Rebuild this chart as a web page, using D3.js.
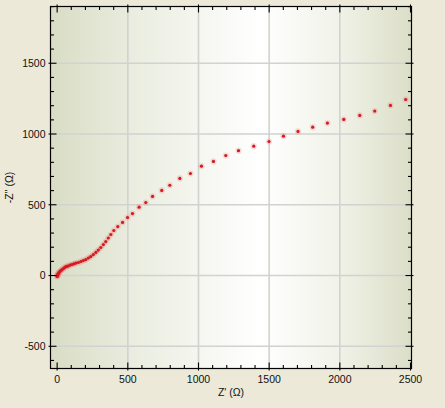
<!DOCTYPE html>
<html><head><meta charset="utf-8">
<script src="https://cdn.jsdelivr.net/npm/d3@7"></script>
<style>
html,body{margin:0;padding:0;background:#ECE9D8;}
svg{display:block;}
text{font-family:"Liberation Sans",Arial,sans-serif;}
</style></head>
<body>
<svg id="chart" width="445" height="408"></svg>
<script>
// Z' (Ohm) and -Z'' (Ohm), ordered from high to low frequency
const zReal = [0, 1, 2, 5, 8, 13, 19, 26, 35, 44, 54, 65, 76, 90, 104, 118, 132, 150, 168, 185, 203, 221, 238, 256, 274, 291, 309, 327, 344, 362, 380, 401, 429, 463, 498, 533, 580, 627, 675, 740, 797, 868, 943, 1021, 1106, 1193, 1283, 1391, 1499, 1601, 1704, 1808, 1912, 2028, 2141, 2247, 2358, 2466];
const zImag = [-7, -3, 0, 7, 14, 21, 28, 35, 42, 49, 57, 64, 67, 73, 78, 83, 88, 92, 99, 106, 113, 124, 134, 148, 163, 180, 198, 219, 240, 265, 290, 318, 346, 375, 410, 438, 483, 516, 559, 601, 638, 686, 721, 773, 806, 848, 882, 914, 947, 985, 1018, 1048, 1077, 1103, 1131, 1162, 1202, 1244];
const xMajor = [0, 500, 1000, 1500, 2000, 2500];
const yMajor = [-500, 0, 500, 1000, 1500];
const xLabel = "Z' (\u03A9)";
const yLabel = "-Z'' (\u03A9)";

const L = 50.5, R = 411.5, T = 6.5, B = 368.5;
const x = d3.scaleLinear().domain([-47, 2507]).range([L, R]);
const y = d3.scaleLinear().domain([-657, 1901]).range([B, T]);
const svg = d3.select("#chart");

const defs = svg.append("defs");
const g = defs.append("linearGradient").attr("id","bg").attr("x1","0").attr("x2","1").attr("y1","0").attr("y2","0");
g.append("stop").attr("offset","0%").attr("stop-color","#D9DDC5");
g.append("stop").attr("offset","25%").attr("stop-color","#EBEEE1");
g.append("stop").attr("offset","58%").attr("stop-color","#FFFFFF");
g.append("stop").attr("offset","80%").attr("stop-color","#F1F2E8");
g.append("stop").attr("offset","100%").attr("stop-color","#DBDEC7");

svg.append("rect").attr("x",L).attr("y",T).attr("width",R-L).attr("height",B-T).attr("fill","url(#bg)");

// grid
svg.append("g").selectAll("line").data(xMajor.filter(v => v > 0 && v < 2500)).join("line")
  .attr("x1", d => x(d)).attr("x2", d => x(d)).attr("y1", T).attr("y2", B)
  .attr("stroke", "#D2D2D0").attr("stroke-width", 1.6);
svg.append("g").selectAll("line").data(yMajor).join("line")
  .attr("y1", d => y(d)).attr("y2", d => y(d)).attr("x1", L).attr("x2", R)
  .attr("stroke", "#D2D2D0").attr("stroke-width", 1.6);

// data points
const pts = zReal.map((v, i) => [v, zImag[i]]);
svg.append("g").selectAll("circle.h").data(pts).join("circle")
  .attr("cx", d => x(d[0])).attr("cy", d => y(d[1])).attr("r", 3.1)
  .attr("fill", "rgba(235,90,90,0.2)");
svg.append("g").selectAll("circle.p").data(pts).join("circle")
  .attr("cx", d => x(d[0])).attr("cy", d => y(d[1])).attr("r", 1.6)
  .attr("fill", "#D41A22");

// frame
svg.append("rect").attr("x",L).attr("y",T).attr("width",R-L).attr("height",B-T)
  .attr("fill","none").attr("stroke","#000").attr("stroke-width",1.2);

// ticks
const xMinor = d3.range(0, 2501, 100).filter(v => v % 500 !== 0);
const yMinor = d3.range(-600, 1901, 100).filter(v => v % 500 !== 0);
const tk = svg.append("g").attr("stroke","#000").attr("stroke-width",1.1);
xMajor.forEach(v => {
  tk.append("line").attr("x1",x(v)).attr("x2",x(v)).attr("y1",B+2).attr("y2",B-6);
  tk.append("line").attr("x1",x(v)).attr("x2",x(v)).attr("y1",T-2).attr("y2",T+6);
});
xMinor.forEach(v => {
  tk.append("line").attr("x1",x(v)).attr("x2",x(v)).attr("y1",B).attr("y2",B-3.5);
  tk.append("line").attr("x1",x(v)).attr("x2",x(v)).attr("y1",T).attr("y2",T+3.5);
});
yMajor.forEach(v => {
  tk.append("line").attr("y1",y(v)).attr("y2",y(v)).attr("x1",L-2).attr("x2",L+6);
  tk.append("line").attr("y1",y(v)).attr("y2",y(v)).attr("x1",R+2).attr("x2",R-6);
});
yMinor.forEach(v => {
  tk.append("line").attr("y1",y(v)).attr("y2",y(v)).attr("x1",L).attr("x2",L+3.5);
  tk.append("line").attr("y1",y(v)).attr("y2",y(v)).attr("x1",R).attr("x2",R-3.5);
});

// tick labels
svg.append("g").selectAll("text").data(xMajor).join("text")
  .attr("x", d => x(d)).attr("y", B + 14).attr("text-anchor","middle")
  .attr("font-size", 10.5).attr("fill","#111").text(d => d);
svg.append("g").selectAll("text").data(yMajor).join("text")
  .attr("x", L - 5).attr("y", d => y(d) + 3.8).attr("text-anchor","end")
  .attr("font-size", 10.5).attr("fill","#111").text(d => d);

// axis titles
svg.append("text").attr("x", (L+R)/2).attr("y", 396).attr("text-anchor","middle")
  .attr("font-size", 10.5).attr("fill","#111").text(xLabel);
svg.append("text").attr("transform", `translate(13,${(T+B)/2}) rotate(-90)`)
  .attr("text-anchor","middle").attr("font-size", 10.5).attr("fill","#111").text(yLabel);
</script>
</body></html>
